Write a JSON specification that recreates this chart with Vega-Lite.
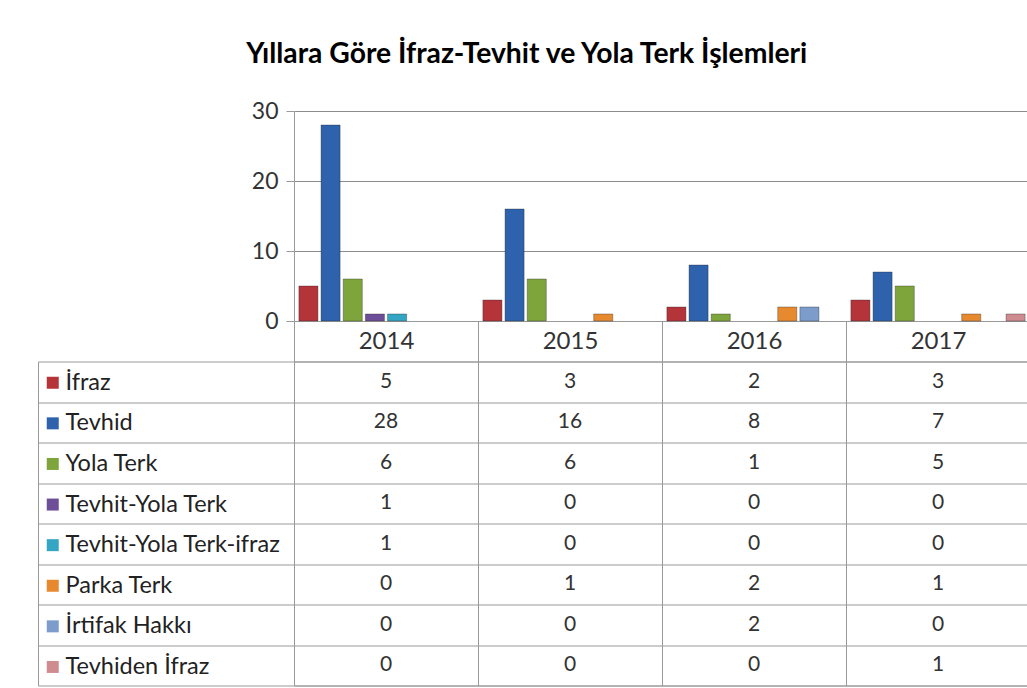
{
  "$schema": "https://vega.github.io/schema/vega-lite/v6.json",
  "padding": {"left": 37, "top": 39, "right": 0, "bottom": 0},
  "autosize": {"type": "pad"},
  "background": "white",
  "config": {"font": "Lato", "view": {"stroke": null}},
  "title": {"text": "Yıllara Göre İfraz-Tevhit ve Yola Terk İşlemleri", "fontSize": 28.3, "font": "Lato", "fontWeight": "bold", "color": "#000", "anchor": "middle", "frame": "bounds", "offset": 31, "dx": -7},
  "data": {"values": [
    {"year": "2014", "series": "İfraz", "value": 5},
    {"year": "2015", "series": "İfraz", "value": 3},
    {"year": "2016", "series": "İfraz", "value": 2},
    {"year": "2017", "series": "İfraz", "value": 3},
    {"year": "2014", "series": "Tevhid", "value": 28},
    {"year": "2015", "series": "Tevhid", "value": 16},
    {"year": "2016", "series": "Tevhid", "value": 8},
    {"year": "2017", "series": "Tevhid", "value": 7},
    {"year": "2014", "series": "Yola Terk", "value": 6},
    {"year": "2015", "series": "Yola Terk", "value": 6},
    {"year": "2016", "series": "Yola Terk", "value": 1},
    {"year": "2017", "series": "Yola Terk", "value": 5},
    {"year": "2014", "series": "Tevhit-Yola Terk", "value": 1},
    {"year": "2015", "series": "Tevhit-Yola Terk", "value": 0},
    {"year": "2016", "series": "Tevhit-Yola Terk", "value": 0},
    {"year": "2017", "series": "Tevhit-Yola Terk", "value": 0},
    {"year": "2014", "series": "Tevhit-Yola Terk-ifraz", "value": 1},
    {"year": "2015", "series": "Tevhit-Yola Terk-ifraz", "value": 0},
    {"year": "2016", "series": "Tevhit-Yola Terk-ifraz", "value": 0},
    {"year": "2017", "series": "Tevhit-Yola Terk-ifraz", "value": 0},
    {"year": "2014", "series": "Parka Terk", "value": 0},
    {"year": "2015", "series": "Parka Terk", "value": 1},
    {"year": "2016", "series": "Parka Terk", "value": 2},
    {"year": "2017", "series": "Parka Terk", "value": 1},
    {"year": "2014", "series": "İrtifak Hakkı", "value": 0},
    {"year": "2015", "series": "İrtifak Hakkı", "value": 0},
    {"year": "2016", "series": "İrtifak Hakkı", "value": 2},
    {"year": "2017", "series": "İrtifak Hakkı", "value": 0},
    {"year": "2014", "series": "Tevhiden İfraz", "value": 0},
    {"year": "2015", "series": "Tevhiden İfraz", "value": 0},
    {"year": "2016", "series": "Tevhiden İfraz", "value": 0},
    {"year": "2017", "series": "Tevhiden İfraz", "value": 1}
  ]},
  "bounds": "flush",
  "spacing": 40.5,
  "vconcat": [
    {
      "width": 736,
      "height": 210,
      "transform": [{"filter": "datum.value > 0"}],
      "mark": {"type": "bar", "stroke": "#222222", "strokeOpacity": 0.35, "strokeWidth": 1},
      "encoding": {
        "x": {"field": "year", "type": "nominal",
              "scale": {"domain": ["2014", "2015", "2016", "2017"], "paddingInner": 0, "paddingOuter": 0},
              "axis": {"title": null, "labelAngle": 0, "labelFontSize": 24, "labelColor": "#333333", "tickBand": "extent", "tickSize": 40.5, "tickColor": "#999999", "domainColor": "#999999", "labelBaseline": "middle", "labelPadding": -20, "grid": false}},
        "xOffset": {"field": "series", "type": "nominal",
              "scale": {"domain": ["İfraz", "Tevhid", "Yola Terk", "Tevhit-Yola Terk", "Tevhit-Yola Terk-ifraz", "Parka Terk", "İrtifak Hakkı", "Tevhiden İfraz"], "paddingInner": 0.14, "paddingOuter": 0.22}},
        "y": {"field": "value", "type": "quantitative",
              "scale": {"domain": [0, 30], "nice": false},
              "axis": {"title": null, "values": [0, 10, 20, 30], "grid": true, "gridColor": "#8c8c8c", "domainColor": "#999999", "tickColor": "#999999", "tickSize": 8, "labelFontSize": 23, "labelColor": "#333333", "labelPadding": 8}},
        "color": {"field": "series", "type": "nominal",
              "scale": {"domain": ["İfraz", "Tevhid", "Yola Terk", "Tevhit-Yola Terk", "Tevhit-Yola Terk-ifraz", "Parka Terk", "İrtifak Hakkı", "Tevhiden İfraz"],
                        "range": ["#B5343A", "#2E62AC", "#7EA53C", "#6E4E98", "#35A5C4", "#E7892F", "#7C9CCB", "#CF8C90"]},
              "legend": {"title": null, "orient": "none", "legendX": -253, "legendY": 260, "symbolType": "square", "symbolSize": 144, "symbolStrokeWidth": 0, "labelFontSize": 23.5, "labelColor": "#222222", "rowPadding": 15.6, "labelOffset": 1, "labelLimit": 300}}
      }
    },
    {
      "width": 736,
      "height": 324,
      "view": {"stroke": "#999999"},
      "mark": {"type": "text", "fontSize": 21, "color": "#333333", "baseline": "middle", "align": "center"},
      "encoding": {
        "x": {"field": "year", "type": "nominal",
              "scale": {"paddingInner": 0, "paddingOuter": 0},
              "axis": {"title": null, "labels": false, "ticks": false, "domain": false, "grid": true, "tickBand": "extent", "gridColor": "#999999"}},
        "y": {"field": "series", "type": "nominal",
              "scale": {"domain": ["İfraz", "Tevhid", "Yola Terk", "Tevhit-Yola Terk", "Tevhit-Yola Terk-ifraz", "Parka Terk", "İrtifak Hakkı", "Tevhiden İfraz"], "paddingInner": 0, "paddingOuter": 0},
              "axis": {"title": null, "orient": "left", "offset": 256, "labels": false, "domain": true, "domainColor": "#999999", "ticks": true, "tickSize": -256, "tickColor": "#999999", "tickBand": "extent", "grid": true, "gridColor": "#999999"}},
        "text": {"field": "value", "type": "quantitative"}
      }
    }
  ]
}
